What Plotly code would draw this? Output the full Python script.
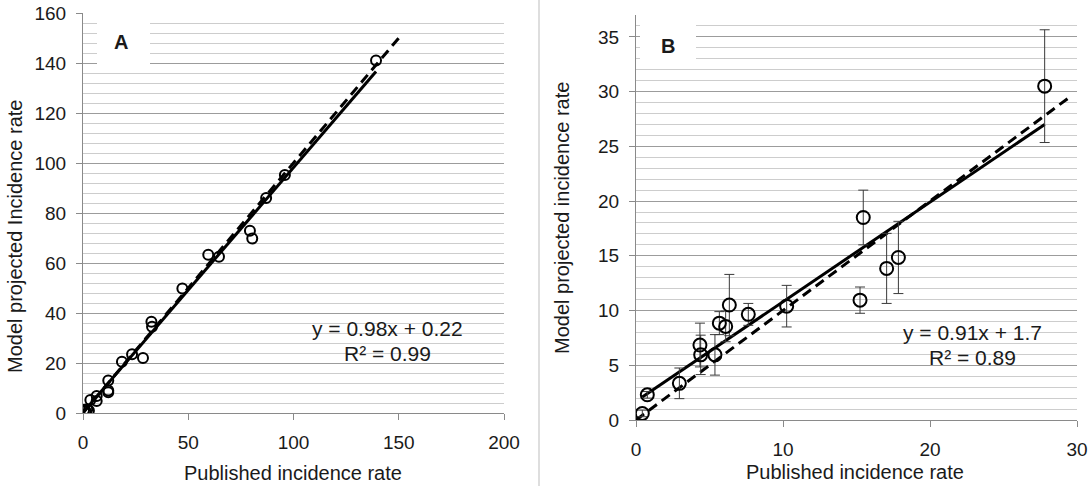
import plotly.graph_objects as go

W, H = 1090, 486

# ---------------- Panel A data ----------------
a_published = [0.5, 1.2, 2.0, 2.8, 3.5, 6.5, 6.5, 12.0, 12.0, 12.0, 18.5, 23.3, 28.5,
               32.5, 32.8, 47.2, 59.5, 64.6, 79.3, 80.4, 87.0, 95.9, 139.2]
a_model = [1.2, 0.8, 1.5, 1.0, 5.2, 6.8, 4.8, 13.0, 9.0, 8.3, 20.5, 23.5, 22.0,
           36.5, 34.5, 49.8, 63.3, 62.5, 72.9, 69.8, 86.0, 95.2, 141.0]
a_slope, a_intercept = 0.98, 0.22
a_identity = [0, 150]
a_eq = ["y = 0.98x + 0.22", "R² = 0.99"]

# ---------------- Panel B data ----------------
b_published = [0.43, 0.77, 2.95, 4.35, 4.4, 5.37, 5.67, 6.1, 6.35, 7.64, 10.25,
               15.24, 15.46, 17.05, 17.85, 27.8]
b_model = [0.6, 2.3, 3.35, 6.85, 5.95, 5.95, 8.85, 8.55, 10.5, 9.65, 10.4,
           10.95, 18.5, 13.85, 14.85, 30.5]
b_err = [0.3, 0.3, 1.4, 2.0, 1.8, 1.85, 1.05, 1.4, 2.8, 1.0, 1.9,
         1.2, 2.5, 3.2, 3.3, 5.15]
b_slope, b_intercept = 0.91, 1.7
b_identity = [0, 29.5]
b_eq = ["y = 0.91x + 1.7", "R² = 0.89"]

x_title = "Published incidence rate"
a_y_title = "Model projected Incidence rate"
b_y_title = "Model projected incidence rate"

FONT = "Liberation Sans, Arial, sans-serif"
TXT = "#1a1a1a"
MAJ = "#9c9c9c"
MIN = "#cdcdcd"
AXL = "#8a8a8a"


def px(x):
    return x / W


def py(y):
    return 1 - y / H


fig = go.Figure()

# Panel A
a_fx = [min(a_published), max(a_published)]
fig.add_trace(go.Scatter(x=a_fx, y=[a_slope * v + a_intercept for v in a_fx],
                         mode="lines", line=dict(color="black", width=3),
                         xaxis="x", yaxis="y", showlegend=False))
fig.add_trace(go.Scatter(x=a_identity, y=a_identity, mode="lines",
                         line=dict(color="black", width=3, dash="10px,6px"),
                         xaxis="x", yaxis="y", showlegend=False))
fig.add_trace(go.Scatter(x=a_published, y=a_model, mode="markers",
                         marker=dict(symbol="circle-open", size=10, color="black",
                                     line=dict(width=2, color="black")),
                         xaxis="x", yaxis="y", showlegend=False))

# Panel B
b_fx = [min(b_published), max(b_published)]
fig.add_trace(go.Scatter(x=b_fx, y=[b_slope * v + b_intercept for v in b_fx],
                         mode="lines", line=dict(color="black", width=3),
                         xaxis="x2", yaxis="y2", showlegend=False))
fig.add_trace(go.Scatter(x=b_identity, y=b_identity, mode="lines",
                         line=dict(color="black", width=3, dash="10px,6px"),
                         xaxis="x2", yaxis="y2", showlegend=False))
fig.add_trace(go.Scatter(x=b_published, y=b_model, mode="markers",
                         error_y=dict(type="data", array=b_err, visible=True,
                                      color="#3a3a3a", thickness=1, width=5),
                         marker=dict(symbol="circle-open", size=13, color="black",
                                     line=dict(width=2, color="black")),
                         xaxis="x2", yaxis="y2", showlegend=False))

tickfont = dict(family=FONT, size=19, color=TXT)

common_x = dict(showgrid=False, zeroline=False, showline=True, linecolor=AXL,
                linewidth=1, ticks="outside", ticklen=6, tickcolor=AXL,
                tickfont=tickfont, ticklabelstandoff=6, fixedrange=True,
                automargin=False)
common_y = dict(showgrid=True, gridcolor=MAJ, gridwidth=1, zeroline=False,
                showline=True, linecolor=AXL, linewidth=1, ticks="outside",
                ticklen=6, tickcolor=AXL, tickfont=tickfont,
                ticklabelstandoff=6, fixedrange=True, automargin=False)

fig.update_layout(
    width=W, height=H, margin=dict(l=0, r=0, t=0, b=0, pad=0), autosize=False,
    paper_bgcolor="white", plot_bgcolor="white",
    xaxis=dict(domain=[px(83), px(504)], range=[0, 200], tickmode="array",
               tickvals=[0, 50, 100, 150, 200], anchor="y", **common_x),
    yaxis=dict(domain=[py(413), py(13)], range=[0, 160], tickmode="linear",
               tick0=0, dtick=20, anchor="x",
               minor=dict(dtick=4, tick0=0, showgrid=True, gridcolor=MIN,
                          gridwidth=1, ticks=""),
               **common_y),
    xaxis2=dict(domain=[px(636), px(1077)], range=[0, 30], tickmode="array",
                tickvals=[0, 10, 20, 30], anchor="y2", **common_x),
    yaxis2=dict(domain=[py(420), py(15)], range=[0, 37], tickmode="linear",
                tick0=0, dtick=5, anchor="x2",
                minor=dict(dtick=1, tick0=0, showgrid=True, gridcolor=MIN,
                           gridwidth=1, ticks=""),
                **common_y),
)

shapes = [
    # divider between panels
    dict(type="line", xref="paper", yref="paper", x0=px(539), x1=px(539),
         y0=0, y1=1, line=dict(color="#dedede", width=2)),
    # white label boxes
    dict(type="rect", xref="paper", yref="paper", x0=px(97), x1=px(150),
         y0=py(64), y1=py(14), fillcolor="white", line=dict(width=0),
         layer="above"),
    dict(type="rect", xref="paper", yref="paper", x0=px(640), x1=px(696),
         y0=py(64), y1=py(16), fillcolor="white", line=dict(width=0),
         layer="above"),
]
fig.update_layout(shapes=shapes)


def ann(text, x, y, size=20, bold=False, angle=0):
    return dict(text=f"<b>{text}</b>" if bold else text, xref="paper", yref="paper",
                x=px(x), y=py(y), xanchor="center", yanchor="middle",
                showarrow=False, textangle=angle,
                font=dict(family=FONT, size=size, color=TXT))


annotations = [
    ann("A", 121, 42, size=20, bold=True),
    ann("B", 668, 46, size=20, bold=True),
    ann(a_eq[0], 387, 328, size=21),
    ann(a_eq[1], 387, 353, size=21),
    ann(b_eq[0], 972, 332, size=21),
    ann(b_eq[1], 972, 357, size=21),
    ann(x_title, 293.5, 473, size=20),
    ann(x_title, 855.5, 472, size=20),
    ann(a_y_title, 14.5, 236.5, size=20, angle=-90),
    ann(b_y_title, 562.5, 218.5, size=20, angle=-90),
]
fig.update_layout(annotations=annotations)

fig.write_html("out.html")
